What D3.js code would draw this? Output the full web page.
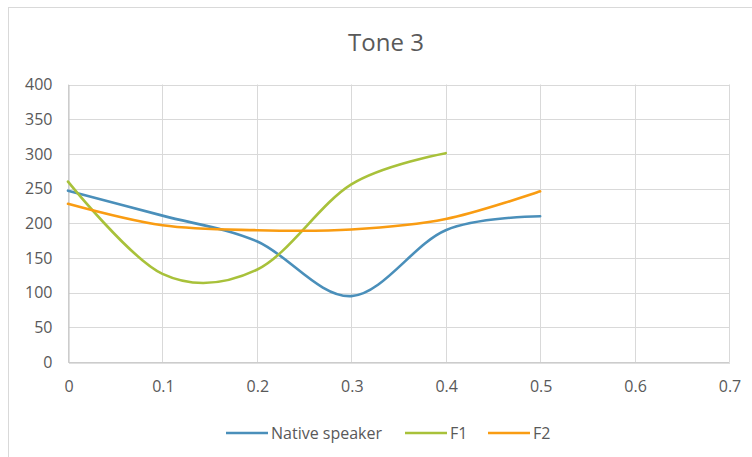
<!DOCTYPE html>
<html>
<head>
<meta charset="utf-8">
<script src="https://cdn.jsdelivr.net/npm/d3@7"></script>
<style>
  html, body { margin: 0; padding: 0; background: #fff; }
  svg text { font-family: "Open Sans", "Noto Sans", sans-serif; fill: #595959; }
</style>
</head>
<body>
<svg id="chart" width="752" height="457"></svg>
<script>
// Pitch contours for Tone 3 (time in s vs. frequency in Hz)
const title = "Tone 3";
const xTicks = [0, 0.1, 0.2, 0.3, 0.4, 0.5, 0.6, 0.7];
const yTicks = [0, 50, 100, 150, 200, 250, 300, 350, 400];
const seriesNames = ["Native speaker", "F1", "F2"];
const seriesColors = ["#4a8fba", "#a8c13a", "#f99c12"];
const nativeX = [0, 0.1, 0.2, 0.3, 0.4, 0.5];
const nativeY = [247, 211, 174, 95, 190, 210];
const f1X = [0, 0.1, 0.2, 0.3, 0.4];
const f1Y = [260, 127, 133, 256, 301];
const f2X = [0, 0.1, 0.2, 0.3, 0.4, 0.5];
const f2Y = [228, 197, 190, 191, 206, 246];

const series = [
  { name: seriesNames[0], color: seriesColors[0], pts: nativeX.map((x, i) => [x, nativeY[i]]) },
  { name: seriesNames[1], color: seriesColors[1], pts: f1X.map((x, i) => [x, f1Y[i]]) },
  { name: seriesNames[2], color: seriesColors[2], pts: f2X.map((x, i) => [x, f2Y[i]]) }
];

const svg = d3.select("#chart");
const plot = { left: 68, right: 729, top: 84.5, bottom: 362 };

// chart frame
svg.append("rect")
  .attr("x", 8.5).attr("y", 7.5).attr("width", 760).attr("height", 470)
  .attr("fill", "#fff").attr("stroke", "#d9d9d9").attr("stroke-width", 1);

const x = d3.scaleLinear().domain([0, 0.7]).range([plot.left, plot.right]);
const y = d3.scaleLinear().domain([0, 400]).range([plot.bottom, plot.top]);

// gridlines
const grid = svg.append("g");
grid.selectAll(".hg").data(yTicks).join("line")
  .attr("x1", plot.left).attr("x2", plot.right)
  .attr("y1", d => Math.round(y(d)) + 0.5).attr("y2", d => Math.round(y(d)) + 0.5)
  .attr("stroke", "#d9d9d9").attr("stroke-width", 1);
grid.selectAll(".vg").data(xTicks).join("line")
  .attr("y1", plot.top).attr("y2", plot.bottom)
  .attr("x1", d => Math.round(x(d)) + 0.5).attr("x2", d => Math.round(x(d)) + 0.5)
  .attr("stroke", "#d9d9d9").attr("stroke-width", 1);

// axes
const xAxis = d3.axisBottom(x).tickValues(xTicks).tickSize(0).tickPadding(18)
  .tickFormat(d => d3.format("~g")(d));
const gx = svg.append("g").attr("transform", `translate(0.5,${Math.round(plot.bottom) + 0.5})`).call(xAxis);
gx.select(".domain").attr("stroke", "#bfbfbf");
gx.selectAll("text").attr("font-size", 16).style("fill", "#595959");

const yAxis = d3.axisLeft(y).tickValues(yTicks).tickSize(0).tickPadding(16);
const gy = svg.append("g").attr("transform", `translate(${plot.left + 0.5},0)`).call(yAxis);
gy.select(".domain").attr("stroke", "#bfbfbf");
gy.selectAll("text").attr("font-size", 16).style("fill", "#595959");

// smoothed lines
const line = d3.line().x(d => x(d[0])).y(d => y(d[1])).curve(d3.curveCardinal.tension(0));
svg.append("g").selectAll("path").data(series).join("path")
  .attr("d", d => line(d.pts))
  .attr("fill", "none")
  .attr("stroke", d => d.color)
  .attr("stroke-width", 2.6)
  .attr("stroke-linecap", "round");

// title
svg.append("text")
  .attr("x", 386).attr("y", 51)
  .attr("text-anchor", "middle")
  .attr("font-size", 24)
  .text(title);

// legend
const legendItems = [
  { x: 226, w: 42 },
  { x: 405, w: 42 },
  { x: 488, w: 42 }
];
const lg = svg.append("g");
series.forEach((s, i) => {
  const it = legendItems[i];
  lg.append("line")
    .attr("x1", it.x).attr("x2", it.x + it.w)
    .attr("y1", 433).attr("y2", 433)
    .attr("stroke", s.color).attr("stroke-width", 2.6);
  lg.append("text")
    .attr("x", it.x + it.w + 3).attr("y", 439)
    .attr("font-size", 16)
    .text(s.name);
});
</script>
</body>
</html>
